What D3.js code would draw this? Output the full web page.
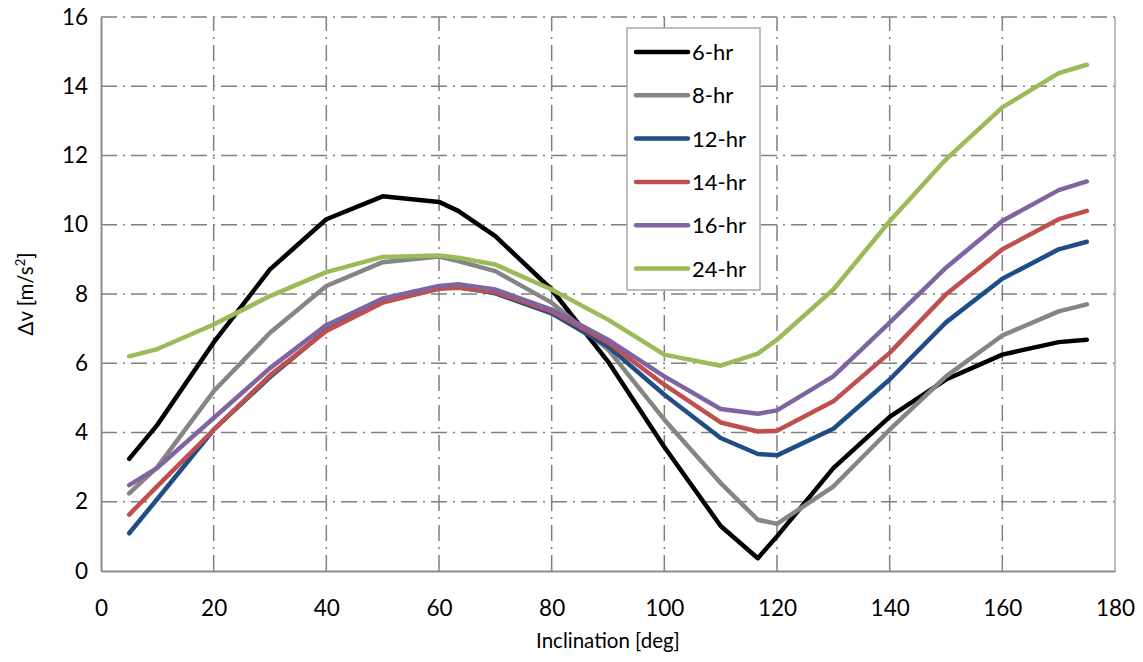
<!DOCTYPE html>
<html>
<head>
<meta charset="utf-8">
<script src="https://cdn.jsdelivr.net/npm/d3@7"></script>
<style>
html,body{margin:0;padding:0;background:#fff;}
svg text{font-family:Lato,"Open Sans",sans-serif;fill:#000;}
</style>
</head>
<body>
<svg id="chart" width="1143" height="662"></svg>
<script>
const inclination = [5,10,20,30,40,50,60,63.4,70,80,90,100,110,116.6,120,130,140,150,160,170,175];
const hr6  = [3.24,4.22,6.6,8.71,10.16,10.82,10.66,10.4,9.67,8.13,6.05,3.58,1.3,0.37,1.0,2.97,4.45,5.53,6.25,6.61,6.68];
const hr8  = [2.24,3.0,5.19,6.88,8.23,8.92,9.08,8.95,8.66,7.75,6.4,4.37,2.54,1.48,1.36,2.44,4.08,5.62,6.8,7.5,7.7];
const hr12 = [1.09,2.08,4.08,5.6,6.95,7.78,8.18,8.2,8.02,7.44,6.49,5.09,3.84,3.38,3.34,4.11,5.53,7.18,8.44,9.29,9.51];
const hr14 = [1.63,2.45,4.08,5.65,6.93,7.75,8.15,8.18,8.05,7.5,6.6,5.38,4.29,4.03,4.05,4.9,6.3,7.99,9.29,10.16,10.4];
const hr16 = [2.48,2.98,4.42,5.86,7.1,7.87,8.23,8.28,8.13,7.55,6.68,5.62,4.68,4.54,4.64,5.62,7.17,8.76,10.11,11.0,11.25];
const hr24 = [6.2,6.41,7.12,7.94,8.63,9.07,9.11,9.05,8.85,8.13,7.26,6.25,5.93,6.28,6.68,8.13,10.1,11.89,13.39,14.38,14.62];
const seriesNames = ["6-hr","8-hr","12-hr","14-hr","16-hr","24-hr"];
const seriesValues = [hr6,hr8,hr12,hr14,hr16,hr24];
const seriesColors = ["#000000","#858585","#1F4E86","#C0504D","#8064A2","#9BBB59"];
const xTicks = [0,20,40,60,80,100,120,140,160,180];
const yTicks = [0,2,4,6,8,10,12,14,16];

const svg = d3.select("#chart");
const L=101, R=1115, T=17, B=571;
const x = d3.scaleLinear().domain([0,180]).range([L,R]);
const y = d3.scaleLinear().domain([0,16]).range([B,T]);

const gridColor = "#808080";
const dash = "16,6,2,6";
// grid
svg.append("g").selectAll("line").data(yTicks.filter(d=>d>0)).join("line")
  .attr("x1",L).attr("x2",R).attr("y1",d=>y(d)).attr("y2",d=>y(d))
  .attr("stroke",gridColor).attr("stroke-width",1.5).attr("stroke-dasharray",dash);
svg.append("g").selectAll("line").data(xTicks.filter(d=>d>0&&d<180)).join("line")
  .attr("x1",d=>x(d)).attr("x2",d=>x(d)).attr("y1",B).attr("y2",T)
  .attr("stroke",gridColor).attr("stroke-width",1.5).attr("stroke-dasharray",dash);
// right border
svg.append("line").attr("x1",R).attr("x2",R).attr("y1",T).attr("y2",B)
  .attr("stroke","#a6a6a6").attr("stroke-width",1.5);

// axes
const tickFont = 22.5;
const xAxis = d3.axisBottom(x).tickValues(xTicks).tickSize(0).tickPadding(29).tickFormat(d3.format("d"));
const gx = svg.append("g").attr("transform",`translate(0,${B})`).call(xAxis);
gx.select(".domain").attr("stroke","#8c8c8c").attr("stroke-width",2);
gx.selectAll("text").attr("font-size",tickFont).attr("font-family","Lato,'Open Sans',sans-serif");

const yAxis = d3.axisLeft(y).tickValues(yTicks).tickSize(0).tickPadding(13).tickFormat(d3.format("d"));
const gy = svg.append("g").attr("transform",`translate(${L},0)`).call(yAxis);
gy.select(".domain").attr("stroke","#8c8c8c").attr("stroke-width",2);
gy.selectAll("text").attr("font-size",tickFont).attr("font-family","Lato,'Open Sans',sans-serif");

// lines
const line = d3.line().x((d,i)=>x(inclination[i])).y(d=>y(d));
seriesValues.forEach((vals,k)=>{
  svg.append("path").datum(vals).attr("d",line)
    .attr("fill","none").attr("stroke",seriesColors[k]).attr("stroke-width",4.5)
    .attr("stroke-linejoin","round").attr("stroke-linecap","round");
});

// titles
svg.append("text").attr("x",(L+R)/2).attr("y",648).attr("text-anchor","middle")
  .attr("font-size",20.5).text("Inclination [deg]");
const yt = svg.append("text").attr("transform","translate(33,294) rotate(-90)")
  .attr("text-anchor","middle").attr("font-size",20.5);
yt.append("tspan").text("Δv [m/s");
yt.append("tspan").attr("font-size",13).attr("dy",-8).text("2");
yt.append("tspan").attr("dy",8).text("]");

// legend
const lg = svg.append("g");
lg.append("rect").attr("x",627).attr("y",28).attr("width",133).attr("height",262)
  .attr("fill","#fff").attr("stroke","#a6a6a6").attr("stroke-width",1.5);
seriesNames.forEach((n,k)=>{
  const yy = 52 + k*43.3;
  lg.append("line").attr("x1",636).attr("x2",688).attr("y1",yy).attr("y2",yy)
    .attr("stroke",seriesColors[k]).attr("stroke-width",4.5).attr("stroke-linecap","round");
  lg.append("text").attr("x",692).attr("y",yy+8).attr("font-size",22).text(n);
});
</script>
</body>
</html>
